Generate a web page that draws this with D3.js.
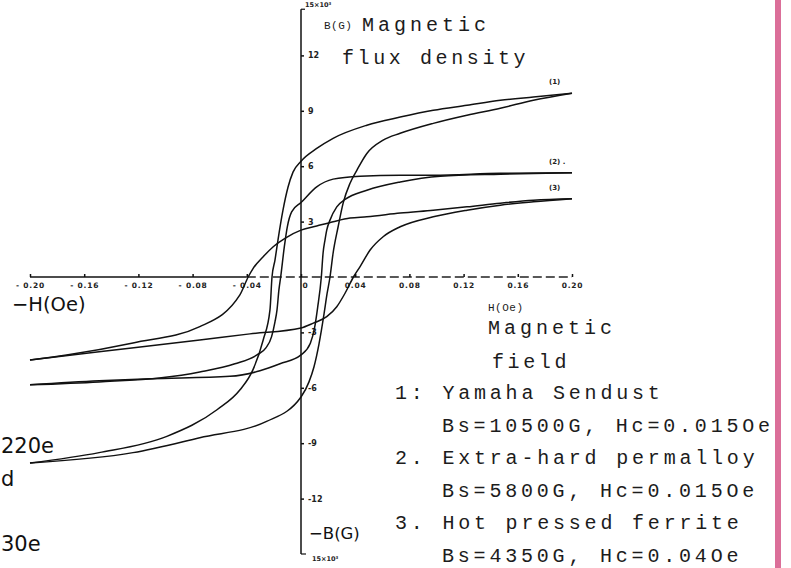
<!DOCTYPE html>
<html>
<head>
<meta charset="utf-8">
<script src="https://cdn.jsdelivr.net/npm/d3@7"></script>
<style>
  html, body { margin: 0; padding: 0; background: #fff; }
  svg { display: block; }
  .mono { font-family: "Liberation Mono", "DejaVu Sans Mono", monospace; fill: #1c1c1c; }
  .tiny { font-family: "DejaVu Sans", sans-serif; font-weight: bold; fill: #222; }
  .sans { font-family: "DejaVu Sans", sans-serif; fill: #111; }
</style>
</head>
<body>
<svg id="chart" width="791" height="568"></svg>
<script>
// Axis ticks: H in Oe, B in kG (x10^3 G)
const xTicks = [-0.20, -0.16, -0.12, -0.08, -0.04, 0, 0.04, 0.08, 0.12, 0.16, 0.20];
const yTicks = [-12, -9, -6, -3, 3, 6, 9, 12];

// Hysteresis branches as [H (Oe), B (kG)], ordered by H.
// 1: Yamaha Sendust
const loop1Upper = [
  [-0.200, -10.07], [-0.149, -9.51], [-0.099, -8.63], [-0.062, -7.19], [-0.045, -6.11],
  [-0.0355, -5.03], [-0.0279, -3.41], [-0.0229, -1.78], [-0.0214, 0], [-0.0192, 0.92],
  [-0.0170, 2.00], [-0.0133, 3.62], [-0.0096, 4.86], [-0.0059, 5.68], [0, 6.27],
  [0.0116, 6.96], [0.0237, 7.51], [0.0486, 8.22], [0.0732, 8.66], [0.0976, 9.03],
  [0.1225, 9.30], [0.1471, 9.57], [0.1715, 9.75], [0.200, 9.95]
];
const loop1Lower = [
  [-0.200, -10.07], [-0.124, -9.51], [-0.0747, -8.70], [-0.0254, -7.82], [0, -6.50],
  [0.0059, -5.68], [0.0096, -4.86], [0.0133, -3.62], [0.0170, -2.00], [0.0192, -0.92],
  [0.0214, 0], [0.0237, 1.30], [0.0274, 2.72], [0.0311, 4.00], [0.0362, 5.08],
  [0.0412, 5.78], [0.0486, 6.69], [0.0606, 7.41], [0.0732, 7.78], [0.0976, 8.32],
  [0.1225, 8.76], [0.1471, 9.14], [0.1715, 9.57], [0.200, 9.95]
];
// 2: Extra-hard permalloy
const loop2Upper = [
  [-0.200, -5.84], [-0.149, -5.68], [-0.103, -5.46], [-0.0747, -5.14], [-0.0488, -4.70],
  [-0.0325, -4.22], [-0.0259, -3.84], [-0.0217, -3.23], [-0.0192, -2.43], [-0.0177, -1.78],
  [-0.0163, -0.70], [-0.0150, 0], [-0.0123, 1.64], [-0.0101, 2.72], [-0.0069, 3.53],
  [0, 4.03], [0.0116, 4.88], [0.0237, 5.30], [0.0436, 5.46], [0.0732, 5.51],
  [0.0976, 5.51], [0.1471, 5.62], [0.200, 5.65]
];
const loop2Lower = [
  [-0.200, -5.84], [-0.149, -5.62], [-0.111, -5.51], [-0.0525, -5.38], [-0.0303, -5.08],
  [-0.0155, -4.70], [0, -4.22], [0.0069, -3.59], [0.0101, -2.72], [0.0123, -1.64],
  [0.0150, 0], [0.0163, 1.30], [0.0177, 2.00], [0.0190, 2.54], [0.0214, 3.08],
  [0.0264, 3.80], [0.0325, 4.20], [0.0486, 4.70], [0.0732, 5.15], [0.1028, 5.46],
  [0.1471, 5.57], [0.200, 5.65]
];
// 3: Hot pressed ferrite
const loop3Upper = [
  [-0.200, -4.49], [-0.173, -4.22], [-0.124, -3.57], [-0.0747, -2.69], [-0.0451, -0.97],
  [-0.0390, 0], [-0.0353, 0.47], [-0.0279, 1.10], [-0.0205, 1.64], [-0.0106, 2.15],
  [0, 2.54], [0.0116, 2.76], [0.0237, 2.99], [0.0362, 3.19], [0.0486, 3.26],
  [0.0732, 3.46], [0.0976, 3.62], [0.1225, 3.80], [0.1471, 4.00], [0.1715, 4.16],
  [0.200, 4.24]
];
const loop3Lower = [
  [-0.200, -4.49], [-0.149, -4.05], [-0.0747, -3.41], [-0.0377, -3.08], [0, -2.76],
  [0.0091, -2.50], [0.0190, -2.15], [0.0264, -1.61], [0.0325, -0.88], [0.0387, 0],
  [0.0436, 0.56], [0.0510, 1.46], [0.0606, 2.18], [0.0732, 2.72], [0.0976, 3.26],
  [0.1225, 3.62], [0.1471, 3.89], [0.1715, 4.07], [0.200, 4.24]
];

const branches = [loop1Upper, loop1Lower, loop2Upper, loop2Lower, loop3Upper, loop3Lower];
const curveTags = ["(1)", "(2) .", "(3)"];
const tagLevels = [9.95, 5.65, 4.24];

const legendLines = [
  "1: Yamaha Sendust",
  "Bs=10500G, Hc=0.015Oe",
  "2. Extra-hard permalloy",
  "Bs=5800G, Hc=0.015Oe",
  "3. Hot pressed ferrite",
  "Bs=4350G, Hc=0.04Oe"
];

const svg = d3.select("#chart");

// scales
const x = d3.scaleLinear().domain([-0.2, 0.2]).range([30, 572]);
const y = d3.scaleLinear().domain([-15, 15]).range([554, 0]);
const x0 = x(0), y0 = y(0);

// edge stripe
svg.append("rect").attr("x", 775).attr("y", 0).attr("width", 6).attr("height", 568)
  .attr("fill", "#db6f99");

// x axis line: solid on the left, broken on the right
svg.append("line").attr("x1", x(-0.2)).attr("x2", x(-0.04)).attr("y1", y0).attr("y2", y0)
  .attr("stroke", "#111").attr("stroke-width", 1.5);
svg.append("line").attr("x1", x(-0.04)).attr("x2", x(0.2)).attr("y1", y0).attr("y2", y0)
  .attr("stroke", "#222").attr("stroke-width", 1.3).attr("stroke-dasharray", "9,4");

const xAxis = d3.axisBottom(x).tickValues(xTicks)
  .tickSizeInner(-3).tickSizeOuter(0).tickPadding(6)
  .tickFormat(d => d === 0 ? "0" : d3.format(".2f")(d).replace("−", "- "));
const gx = svg.append("g").attr("transform", `translate(0,${y0})`).call(xAxis);
gx.select(".domain").remove();
gx.selectAll(".tick line").attr("stroke", "#111").attr("stroke-width", 1.5);
gx.selectAll(".tick text").attr("class", "tiny").attr("font-size", 7.5)
  .attr("letter-spacing", 0.8)
  .attr("dx", d => d === 0 ? 4 : 0);

// y axis
svg.append("line").attr("x1", x0).attr("x2", x0).attr("y1", y(14.5)).attr("y2", y(-15))
  .attr("stroke", "#111").attr("stroke-width", 1.5);
svg.append("line").attr("x1", x0).attr("x2", x0 + 4).attr("y1", y(14.5)).attr("y2", y(14.5))
  .attr("stroke", "#111").attr("stroke-width", 1.2);
svg.append("line").attr("x1", x0).attr("x2", x0 + 5).attr("y1", y(-15)).attr("y2", y(-15))
  .attr("stroke", "#111").attr("stroke-width", 1.2);

const yAxis = d3.axisRight(y).tickValues(yTicks).tickSizeInner(3).tickSizeOuter(0).tickPadding(4)
  .tickFormat(d => d3.format("d")(d).replace("−", "-"));
const gy = svg.append("g").attr("transform", `translate(${x0},0)`).call(yAxis);
gy.select(".domain").remove();
gy.selectAll(".tick line").attr("stroke", "#111").attr("stroke-width", 1.5);
gy.selectAll(".tick text").attr("class", "tiny").attr("font-size", 8);

// scale factor notes at axis ends
svg.append("text").attr("class", "tiny").attr("font-size", 6.5).attr("font-weight", "normal")
  .attr("x", x0 + 4).attr("y", y(14.6)).text("15×10³");
svg.append("text").attr("class", "tiny").attr("font-size", 6.5).attr("font-weight", "normal")
  .attr("x", x0 + 11).attr("y", y(-15) + 7).text("15×10³");

// hysteresis loops
const line = d3.line().x(d => x(d[0])).y(d => y(d[1])).curve(d3.curveMonotoneX);
svg.append("g").selectAll("path").data(branches).join("path")
  .attr("d", line).attr("fill", "none").attr("stroke", "#111")
  .attr("stroke-width", 1.5).attr("stroke-linejoin", "round");

// curve tags near the right ends
svg.append("g").selectAll("text").data(curveTags).join("text")
  .attr("class", "tiny").attr("font-size", 7).attr("font-weight", "normal")
  .attr("x", x(0.183)).attr("y", (d, i) => y(tagLevels[i]) - 9)
  .text(d => d);

// axis titles
const mono = (txt, px, py, size, ls) => svg.append("text").attr("class", "mono")
  .attr("x", px).attr("y", py).attr("font-size", size).attr("letter-spacing", ls).text(txt);

mono("B(G)", 324, 29, 11, 0.5);
mono("Magnetic", 362, 31, 20, 4);
mono("flux density", 342, 64, 20, 3.6);
mono("H(Oe)", 488, 311, 11, 0.5);
mono("Magnetic", 488, 334, 20, 4);
mono("field", 492, 368, 20, 3.6);

svg.append("text").attr("class", "sans").attr("x", 12).attr("y", 311)
  .attr("font-size", 19.5).text("−H(Oe)");
svg.append("text").attr("class", "sans").attr("x", 309).attr("y", 539)
  .attr("font-size", 16.5).text("−B(G)");

// legend
svg.append("g").selectAll("text").data(legendLines).join("text")
  .attr("class", "mono").attr("font-size", 20).attr("letter-spacing", 3.8)
  .attr("x", (d, i) => i % 2 === 0 ? 395 : 442)
  .attr("y", (d, i) => 399 + i * 32.6)
  .text(d => d);

// text fragments at the left edge
svg.append("text").attr("class", "sans").attr("font-size", 21)
  .attr("x", 1).attr("y", 453).text("220e");
svg.append("text").attr("class", "sans").attr("font-size", 21)
  .attr("x", 1).attr("y", 486).text("d");
svg.append("text").attr("class", "sans").attr("font-size", 21)
  .attr("x", 1).attr("y", 551).text("30e");
</script>
</body>
</html>
